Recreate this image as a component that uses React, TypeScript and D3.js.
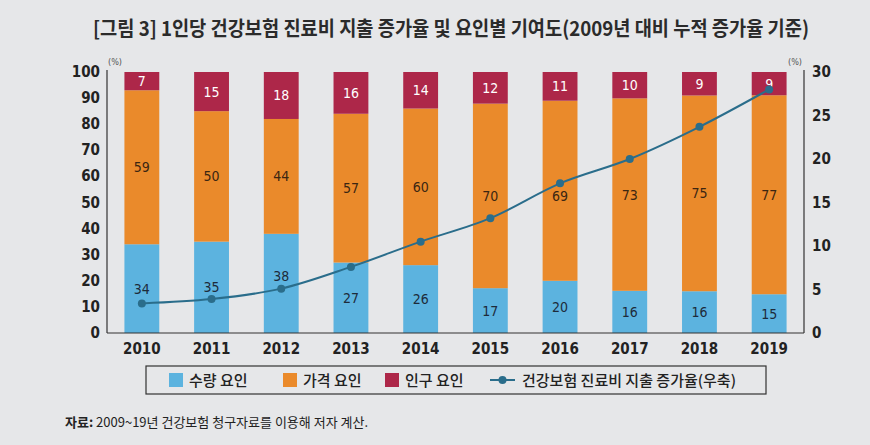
import React from 'react';
import * as d3 from 'd3';

const YEARS = ['2010', '2011', '2012', '2013', '2014', '2015', '2016', '2017', '2018', '2019'];
const VOLUME = [34, 35, 38, 27, 26, 17, 20, 16, 16, 15];
const PRICE = [59, 50, 44, 57, 60, 70, 69, 73, 75, 77];
const POPULATION = [7, 15, 18, 16, 14, 12, 11, 10, 9, 9];
const GROWTH = [3.4, 3.9, 5.1, 7.6, 10.5, 13.2, 17.2, 20.0, 23.7, 28.0];

const LEFT_TICKS = [0, 10, 20, 30, 40, 50, 60, 70, 80, 90, 100];
const RIGHT_TICKS = [0, 5, 10, 15, 20, 25, 30];

const SERIES = [
  { key: 'volume', label: '수량 요인', values: VOLUME, color: '#5cb3df', text: '#1d2b3a' },
  { key: 'price', label: '가격 요인', values: PRICE, color: '#ea8a2b', text: '#3b2612' },
  { key: 'population', label: '인구 요인', values: POPULATION, color: '#ad2749', text: '#ffffff' },
];
const LINE_LABEL = '건강보험 진료비 지출 증가율(우축)';
const LINE_COLOR = '#2a6d8b';

const NUM_FONT = '"Liberation Sans Narrow", "DejaVu Sans Condensed", Roboto, sans-serif';
const KR_FONT = '"Noto Sans CJK KR", "Noto Sans", sans-serif';

export default function App() {
  const width = 870;
  const height = 445;
  const left = 107;
  const right = 804;
  const top = 72;
  const bottom = 333;

  const x = d3.scaleBand<string>().domain(YEARS).range([left, right]).paddingInner(0.5).paddingOuter(0.25);
  const y = d3.scaleLinear().domain([0, 100]).range([bottom, top]);
  const yShare = d3.scaleLinear().domain([0, 1]).range([bottom, top]);
  const y2 = d3.scaleLinear().domain([0, 30]).range([bottom, top]);

  const rows = YEARS.map((yr, i) => ({
    year: yr,
    volume: VOLUME[i],
    price: PRICE[i],
    population: POPULATION[i],
  }));
  // shares are rounded in the source, so bars are normalised to 100
  const stacked = d3
    .stack<(typeof rows)[0]>()
    .keys(SERIES.map((s) => s.key))
    .offset(d3.stackOffsetExpand)(rows as any);

  const cx = (yr: string) => (x(yr) || 0) + x.bandwidth() / 2;
  const line = d3
    .line<number>()
    .x((_, i) => cx(YEARS[i]))
    .y((d) => y2(d))
    .curve(d3.curveMonotoneX);

  // nudge labels that would sit on the growth line
  const nudge = (key: string, yr: string) => {
    if (key === 'volume' && yr === '2012') return -7;
    if (key === 'price' && yr === '2016') return 5;
    return 0;
  };

  return (
    <svg
      width={width}
      height={height}
      style={{ position: 'absolute', left: 0, top: 0, background: '#e6e7e9' }}
    >
      <rect width={width} height={height} fill="#e6e7e9" />
      <text
        x={451}
        y={36}
        textAnchor="middle"
        fontFamily={KR_FONT}
        fontWeight={700}
        fontSize={20}
        fill="#2b2b2b"
        textLength={716}
        lengthAdjust="spacingAndGlyphs"
      >
        [그림 3] 1인당 건강보험 진료비 지출 증가율 및 요인별 기여도(2009년 대비 누적 증가율 기준)
      </text>

      {/* bars */}
      {stacked.map((s, si) => (
        <g key={s.key}>
          {s.map((d, i) => {
            const yr = YEARS[i];
            const y0 = yShare(d[0]);
            const y1 = yShare(d[1]);
            return (
              <g key={yr}>
                <rect x={x(yr)} y={y1} width={x.bandwidth()} height={y0 - y1} fill={SERIES[si].color} />
                <text
                  x={cx(yr)}
                  y={(y0 + y1) / 2 + 5 + nudge(s.key, yr)}
                  textAnchor="middle"
                  fontFamily={NUM_FONT}
                  fontSize={14}
                  fill={SERIES[si].text}
                >
                  {SERIES[si].values[i]}
                </text>
              </g>
            );
          })}
        </g>
      ))}

      {/* axes */}
      <line x1={left} x2={left} y1={top - 2} y2={bottom} stroke="#333" strokeWidth={1.2} />
      <line x1={right} x2={right} y1={top - 2} y2={bottom} stroke="#333" strokeWidth={1.2} />
      <line x1={left} x2={right} y1={bottom} y2={bottom} stroke="#333" strokeWidth={1.2} />
      {LEFT_TICKS.map((t) => (
        <text
          key={t}
          x={100}
          y={y(t) + 5}
          textAnchor="end"
          fontFamily={NUM_FONT}
          fontWeight={700}
          fontSize={15}
          fill="#222"
        >
          {t}
        </text>
      ))}
      {RIGHT_TICKS.map((t) => (
        <text
          key={t}
          x={812}
          y={y2(t) + 5}
          fontFamily={NUM_FONT}
          fontWeight={700}
          fontSize={15}
          fill="#222"
        >
          {t}
        </text>
      ))}
      <text x={108} y={65} fontFamily={NUM_FONT} fontSize={9} fill="#555">(%)</text>
      <text x={788} y={65} fontFamily={NUM_FONT} fontSize={9} fill="#555">(%)</text>
      {YEARS.map((yr) => (
        <text
          key={yr}
          x={cx(yr)}
          y={354}
          textAnchor="middle"
          fontFamily={NUM_FONT}
          fontWeight={700}
          fontSize={15}
          fill="#222"
        >
          {yr}
        </text>
      ))}

      {/* line */}
      <path d={line(GROWTH) || ''} fill="none" stroke={LINE_COLOR} strokeWidth={2} />
      {GROWTH.map((v, i) => (
        <circle key={i} cx={cx(YEARS[i])} cy={y2(v)} r={4} fill={LINE_COLOR} />
      ))}

      {/* legend */}
      <rect x={146} y={366} width={620} height={28} fill="none" stroke="#333" strokeWidth={1.2} />
      {SERIES.map((s, i) => {
        const lx = [169, 283, 385][i];
        return (
          <g key={s.key}>
            <rect x={lx} y={373} width={14} height={14} fill={s.color} />
            <text x={lx + 20} y={386} fontFamily={KR_FONT} fontWeight={500} fontSize={15} fill="#222">
              {s.label}
            </text>
          </g>
        );
      })}
      <line x1={490} x2={515} y1={380} y2={380} stroke={LINE_COLOR} strokeWidth={2} />
      <circle cx={502.5} cy={380} r={4} fill={LINE_COLOR} />
      <text x={522} y={386} fontFamily={KR_FONT} fontWeight={500} fontSize={15} fill="#222">
        {LINE_LABEL}
      </text>

      {/* source */}
      <text x={65} y={427} fontFamily={KR_FONT} fontSize={13} fill="#222">
        <tspan fontWeight={700}>자료:</tspan> 2009~19년 건강보험 청구자료를 이용해 저자 계산.
      </text>
    </svg>
  );
}
